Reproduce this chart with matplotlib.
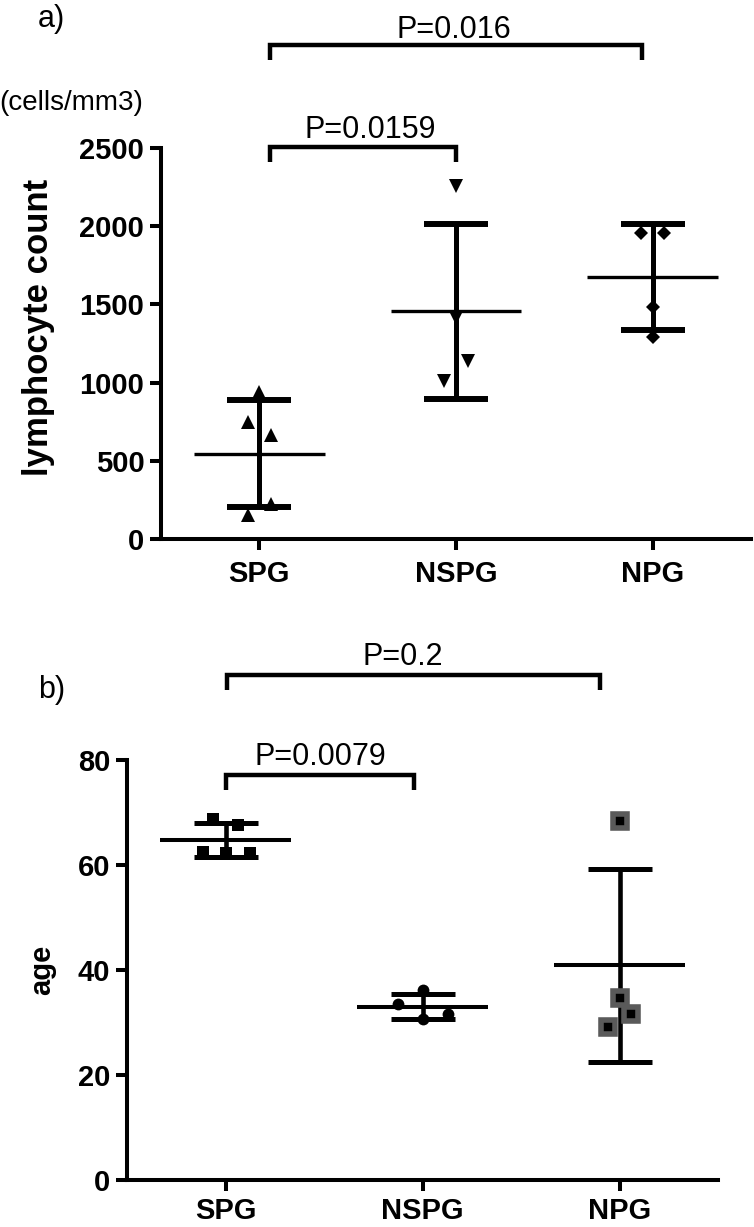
import matplotlib
matplotlib.use('Agg')
import matplotlib.pyplot as plt
import numpy as np

plt.rcParams['font.family'] = ['Liberation Sans', 'DejaVu Sans']

# ---------------- data ----------------
groups = ['SPG', 'NSPG', 'NPG']

lymph_spg = [940, 748, 663, 226, 152]
lymph_nspg = [2257, 1415, 1138, 1010]
lymph_npg = [1958, 1958, 1485, 1292]

age_spg = [68.8, 67.6, 62.5, 62.2, 62.3]
age_nspg = [36.2, 33.6, 31.7, 30.6]
age_npg = [68.3, 34.6, 31.7, 29.1]

lymph_ticks = [0, 500, 1000, 1500, 2000, 2500]
age_ticks = [0, 20, 40, 60, 80]

p_lymph = ['P=0.0159', 'P=0.016']
p_age = ['P=0.0079', 'P=0.2']

# horizontal scatter of points inside each group (layout only)
jit_a = [[0, -0.06, 0.06, 0.06, -0.06], [0, 0, 0.06, -0.06], [-0.06, 0.06, 0, 0]]
jit_b = [[-0.062, 0.065, -0.112, 0.005, 0.122], [0, -0.123, 0.127, 0], [0, 0, 0.06, -0.06]]

W, H = 754, 1227
fig = plt.figure(figsize=(W / 100, H / 100), dpi=100)


def ax_rect(left, top, right, bottom):
    return [left / W, 1 - bottom / H, (right - left) / W, (bottom - top) / H]


def style_axes(ax, ticks, ylim, xpad):
    ax.set_xlim(-0.5, 2.5)
    ax.set_ylim(*ylim)
    ax.set_yticks(ticks)
    ax.set_xticks(range(len(groups)))
    ax.set_xticklabels(groups)
    for s in ['top', 'right']:
        ax.spines[s].set_visible(False)
    for s in ['left', 'bottom']:
        ax.spines[s].set_linewidth(2.9)
    ax.tick_params(axis='both', width=2.9, length=8, direction='out',
                   labelsize=21)
    ax.tick_params(axis='y', pad=4)
    ax.tick_params(axis='x', pad=xpad)
    for lab in ax.get_xticklabels() + ax.get_yticklabels():
        lab.set_fontweight('bold')


def draw_group(ax, i, vals, jit, marker, ms, mfc='black', mec='black', mew=0.0,
               cap_lw=4.3, bar_lw=3.6, mean_lw=2.4):
    vals = np.asarray(vals, dtype=float)
    m = vals.mean()
    sd = vals.std(ddof=1)
    ax.errorbar([i], [m], yerr=[sd], fmt='none', ecolor='black',
                elinewidth=bar_lw, capsize=23, capthick=cap_lw, zorder=2)
    ax.hlines(m, i - 0.333, i + 0.333, colors='black', lw=mean_lw, zorder=2)
    ax.plot(i + np.asarray(jit), vals, linestyle='none', marker=marker,
            markersize=ms, markerfacecolor=mfc, markeredgecolor=mec,
            markeredgewidth=mew, zorder=3, clip_on=False)


def bracket(ax, x0, x1, ytop, ybot, lw=3.2):
    ax.plot([x0, x0, x1, x1], [ybot, ytop, ytop, ybot], color='black', lw=lw,
            solid_joinstyle='miter', solid_capstyle='butt', clip_on=False)


# ---------------- panel a ----------------
axa = fig.add_axes(ax_rect(161, 148, 751, 539))
style_axes(axa, lymph_ticks, (0, 2500), xpad=7)
draw_group(axa, 0, lymph_spg, jit_a[0], '^', 10)
draw_group(axa, 1, lymph_nspg, jit_a[1], 'v', 10)
draw_group(axa, 2, lymph_npg, jit_a[2], 'D', 6.8)

bracket(axa, 0.056, 1.0, 2505, 2410)
axa.text(0.565, 2564, p_lymph[0], ha='center', va='baseline', fontsize=22)
bracket(axa, 0.056, 1.944, 3158, 3063)
axa.text(0.987, 3203, p_lymph[1], ha='center', va='baseline', fontsize=22)

axa.set_ylabel('lymphocyte count', fontsize=25, fontweight='bold')
axa.yaxis.set_label_coords(-0.18, 0.54)

fig.text(38 / W, 1 - 19 / H, 'a)', fontsize=22, ha='left', va='center')
fig.text(143 / W, 1 - 103 / H, '(cells/mm3)', fontsize=20, ha='right', va='center')

# ---------------- panel b ----------------
axb = fig.add_axes(ax_rect(127, 760, 718, 1180))
style_axes(axb, age_ticks, (0, 80), xpad=4)
draw_group(axb, 0, age_spg, jit_b[0], 's', 8.2, cap_lw=3.6, bar_lw=3.3, mean_lw=2.9)
draw_group(axb, 1, age_nspg, jit_b[1], 'o', 8.5, cap_lw=3.6, bar_lw=3.3, mean_lw=2.9)
draw_group(axb, 2, age_npg, jit_b[2], 's', 9.7, mfc='black', mec='#5a5a5a', mew=4.0,
           cap_lw=3.6, bar_lw=3.3, mean_lw=2.9)

bracket(axb, 0.0, 0.957, 77.1, 74.3)
axb.text(0.484, 79.0, p_age[0], ha='center', va='baseline', fontsize=22)
bracket(axb, 0.01, 1.9, 96.2, 93.3)
axb.text(0.90, 98.1, p_age[1], ha='center', va='baseline', fontsize=22)

axb.set_ylabel('age', fontsize=21, fontweight='bold')
axb.yaxis.set_label_coords(-0.12, 0.5)

fig.text(38 / W, 1 - 690 / H, 'b)', fontsize=22, ha='left', va='center')

fig.savefig('out.png', dpi=100)
